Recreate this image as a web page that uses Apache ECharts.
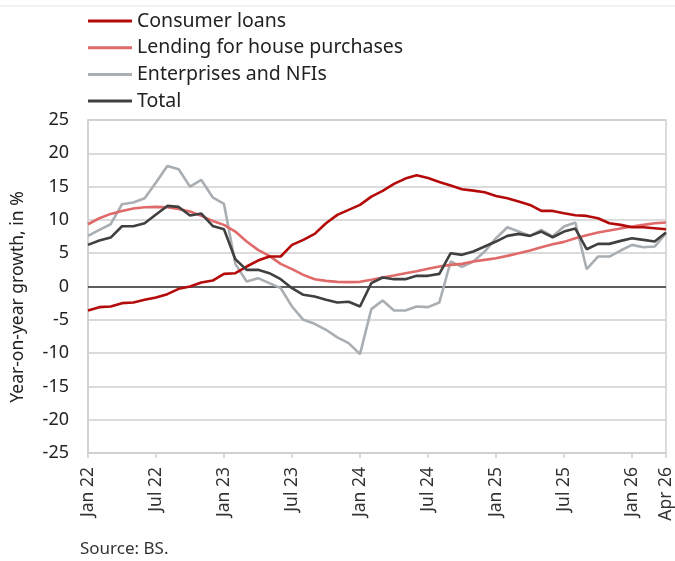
<!DOCTYPE html>
<html>
<head>
<meta charset="utf-8">
<script src="https://cdn.jsdelivr.net/npm/echarts@6/dist/echarts.min.js"></script>
<style>
html,body{margin:0;padding:0;background:#fff;}
#c{width:675px;height:561px;}
</style>
</head>
<body>
<div id="c"></div>
<script>
const monthNames = ['Jan','Feb','Mar','Apr','May','Jun','Jul','Aug','Sep','Oct','Nov','Dec'];
const categories = [];
for (let y = 22; y <= 26; y++) {
  for (let m = 0; m < 12; m++) {
    if (y === 26 && m > 3) break;
    categories.push(monthNames[m] + ' ' + y);
  }
}
const tickLabels = ['Jan 22','Jul 22','Jan 23','Jul 23','Jan 24','Jul 24','Jan 25','Jul 25','Jan 26','Apr 26'];

const consumerLoans = [-3.6,-3.1,-3.0,-2.5,-2.4,-2.0,-1.65,-1.15,-0.35,0.0,0.6,0.9,
  1.9,2.0,3.0,3.9,4.5,4.5,6.25,7.0,7.9,9.5,10.75,11.5,
  12.25,13.5,14.35,15.4,16.2,16.7,16.3,15.7,15.15,14.6,14.4,14.15,
  13.6,13.25,12.75,12.25,11.35,11.35,11.0,10.7,10.6,10.25,9.5,9.25,
  8.9,8.9,8.75,8.6];
const housePurchases = [9.35,10.25,10.9,11.35,11.7,11.9,11.95,11.9,11.65,11.25,10.6,9.85,
  9.25,8.25,6.75,5.5,4.6,3.4,2.6,1.75,1.1,0.85,0.7,0.65,
  0.7,1.0,1.35,1.65,2.0,2.3,2.65,3.0,3.25,3.4,3.75,4.0,
  4.25,4.6,5.0,5.4,5.9,6.35,6.7,7.25,7.7,8.1,8.4,8.7,
  9.0,9.25,9.5,9.6];
const enterprisesNFIs = [7.6,8.5,9.35,12.35,12.6,13.25,15.6,18.1,17.6,15.0,16.0,13.4,
  12.4,3.4,0.75,1.25,0.5,-0.25,-3.0,-5.0,-5.6,-6.5,-7.65,-8.5,
  -10.15,-3.4,-2.1,-3.6,-3.6,-3.0,-3.1,-2.4,3.75,2.95,3.75,5.25,
  7.25,8.9,8.25,7.6,8.5,7.5,9.0,9.6,2.6,4.5,4.5,5.4,
  6.25,5.9,6.0,8.0];
const total = [6.25,6.9,7.35,9.05,9.05,9.5,10.8,12.1,11.95,10.65,10.95,9.1,
  8.6,4.1,2.5,2.5,2.0,1.1,-0.25,-1.25,-1.5,-2.0,-2.4,-2.3,
  -3.0,0.5,1.35,1.1,1.1,1.6,1.6,1.9,5.0,4.75,5.25,6.0,
  6.75,7.6,7.9,7.6,8.25,7.4,8.25,8.7,5.6,6.4,6.4,6.85,
  7.25,7.0,6.75,8.1];

const FONT = '"Noto Sans", "Liberation Sans", sans-serif';
const shown = (i, v) => tickLabels.indexOf(categories[i]) >= 0;

const mkSeries = (name, data, color, z) => ({
  name, type: 'line', data, symbol: 'none', smooth: false, z,
  lineStyle: { color, width: 2.6 }, itemStyle: { color }
});

const chart = echarts.init(document.getElementById('c'), null, { renderer: 'canvas' });
const series = [
  mkSeries('Consumer loans', consumerLoans, '#b40a0a', 4),
  mkSeries('Lending for house purchases', housePurchases, '#e06a6a', 3),
  mkSeries('Enterprises and NFIs', enterprisesNFIs, '#a9aeb3', 2),
  mkSeries('Total', total, '#404040', 5)
];
series[3].markLine = {
  silent: true, symbol: 'none', label: { show: false },
  lineStyle: { color: '#333', width: 1.6, type: 'solid' },
  data: [{ yAxis: 0 }], z: 1
};

chart.setOption({
  animation: false,
  backgroundColor: '#fff',
  textStyle: { fontFamily: FONT },
  graphic: [
    { type: 'line', shape: { x1: 0, y1: 6, x2: 675, y2: 6 }, style: { stroke: '#e3e3e3', lineWidth: 1 } },
    { type: 'text', left: 80, top: 541, style: { text: 'Source: BS.', fontSize: 17, fill: '#333', fontFamily: FONT } },
    { type: 'text', x: 18, y: 297, rotation: Math.PI / 2,
      style: { text: 'Year-on-year growth, in %', fontSize: 17.5, fill: '#222', fontFamily: FONT, align: 'center', verticalAlign: 'middle' } }
  ],
  legend: {
    orient: 'vertical', left: 83, top: 6,
    itemWidth: 44, itemHeight: 3, itemGap: 6.7, icon: 'rect',
    textStyle: { fontSize: 19.5, color: '#222', lineHeight: 20, fontFamily: FONT },
    data: series.map(s => s.name)
  },
  grid: { left: 88, right: 7, top: 120, bottom: 108, show: true, borderColor: '#cfcfcf', borderWidth: 1.5 },
  xAxis: {
    type: 'category', data: categories, boundaryGap: false,
    axisLine: { onZero: false, lineStyle: { color: '#cfcfcf', width: 1.5 } },
    axisTick: { show: true, interval: shown, length: 5, lineStyle: { color: '#cfcfcf', width: 1.5 } },
    axisLabel: { interval: shown, rotate: 90, fontSize: 17.5, color: '#333', margin: 14, fontFamily: FONT },
    splitLine: { show: false }
  },
  yAxis: {
    type: 'value', min: -25, max: 25, interval: 5,
    axisLine: { show: true, lineStyle: { color: '#cfcfcf', width: 1.5 } },
    axisTick: { show: false },
    axisLabel: { fontSize: 18, color: '#222', margin: 19, fontFamily: FONT },
    splitLine: { show: true, lineStyle: { color: '#cfcfcf', width: 1.5 } }
  },
  series
});
</script>
</body>
</html>
